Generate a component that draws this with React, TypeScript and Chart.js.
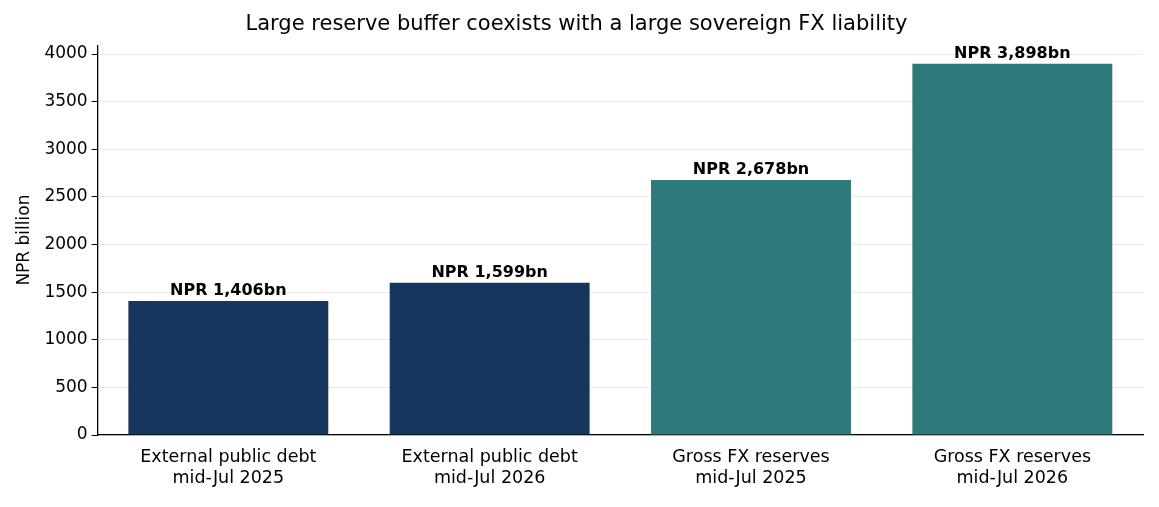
import React, { useEffect, useRef } from "react";
import { Chart, registerables } from "chart.js";
Chart.register(...registerables);

const categories = [["External public debt", "mid-Jul 2025"], ["External public debt", "mid-Jul 2026"], ["Gross FX reserves", "mid-Jul 2025"], ["Gross FX reserves", "mid-Jul 2026"]];
const values = [1406, 1599, 2678, 3898];
const labels = ["NPR 1,406bn", "NPR 1,599bn", "NPR 2,678bn", "NPR 3,898bn"];
const yTicks = [0, 500, 1000, 1500, 2000, 2500, 3000, 3500, 4000];
const colors = ["#17365d", "#17365d", "#2e7a7a", "#2e7a7a"];

const barLabels = {
  id: "barLabels",
  afterDatasetsDraw(chart: any) {
    const ctx = chart.ctx;
    const meta = chart.getDatasetMeta(0);
    ctx.save();
    ctx.font = "bold 16px 'DejaVu Sans'";
    ctx.fillStyle = "#000";
    ctx.textAlign = "center";
    ctx.textBaseline = "bottom";
    meta.data.forEach((el: any, i: number) => ctx.fillText(labels[i], el.x, el.y - 2));
    ctx.restore();
  },
};

export default function App() {
  const ref = useRef<HTMLCanvasElement>(null);
  useEffect(() => {
    const chart = new Chart(ref.current!, {
      type: "bar",
      data: { labels: categories as any, datasets: [{ data: values, backgroundColor: colors, barPercentage: 0.765, categoryPercentage: 1 }] },
      options: {
        animation: false, responsive: false,
        layout: { padding: { left: 10, right: 16, top: 0, bottom: 14 } },
        plugins: {
          legend: { display: false }, tooltip: { enabled: false },
          title: { display: true, text: "Large reserve buffer coexists with a large sovereign FX liability", color: "#000", font: { family: "DejaVu Sans", size: 21, weight: "normal" }, padding: { top: 12, bottom: 8 } },
        },
        scales: {
          x: { grid: { display: false }, border: { color: "#000", width: 1.3 }, ticks: { color: "#000", padding: 4, font: { family: "DejaVu Sans", size: 17.5 } } },
          y: { min: 0, max: 4093, afterBuildTicks: (s: any) => { s.ticks = yTicks.map(v => ({ value: v })); },
            grid: { color: "#ebebeb", tickLength: 6, tickColor: "#000" }, border: { color: "#000", width: 1.3 },
            ticks: { color: "#000", padding: 4, callback: (v: any) => String(v), font: { family: "DejaVu Sans", size: 17 } },
            title: { display: true, text: "NPR billion", color: "#000", padding: { bottom: 6 }, font: { family: "DejaVu Sans", size: 17 } } },
        },
      },
      plugins: [barLabels],
    });
    return () => chart.destroy();
  }, []);
  return <div style={{ position: "fixed", left: 0, top: 0, background: "#fff" }}><canvas ref={ref} width={1159} height={507} /></div>;
}
